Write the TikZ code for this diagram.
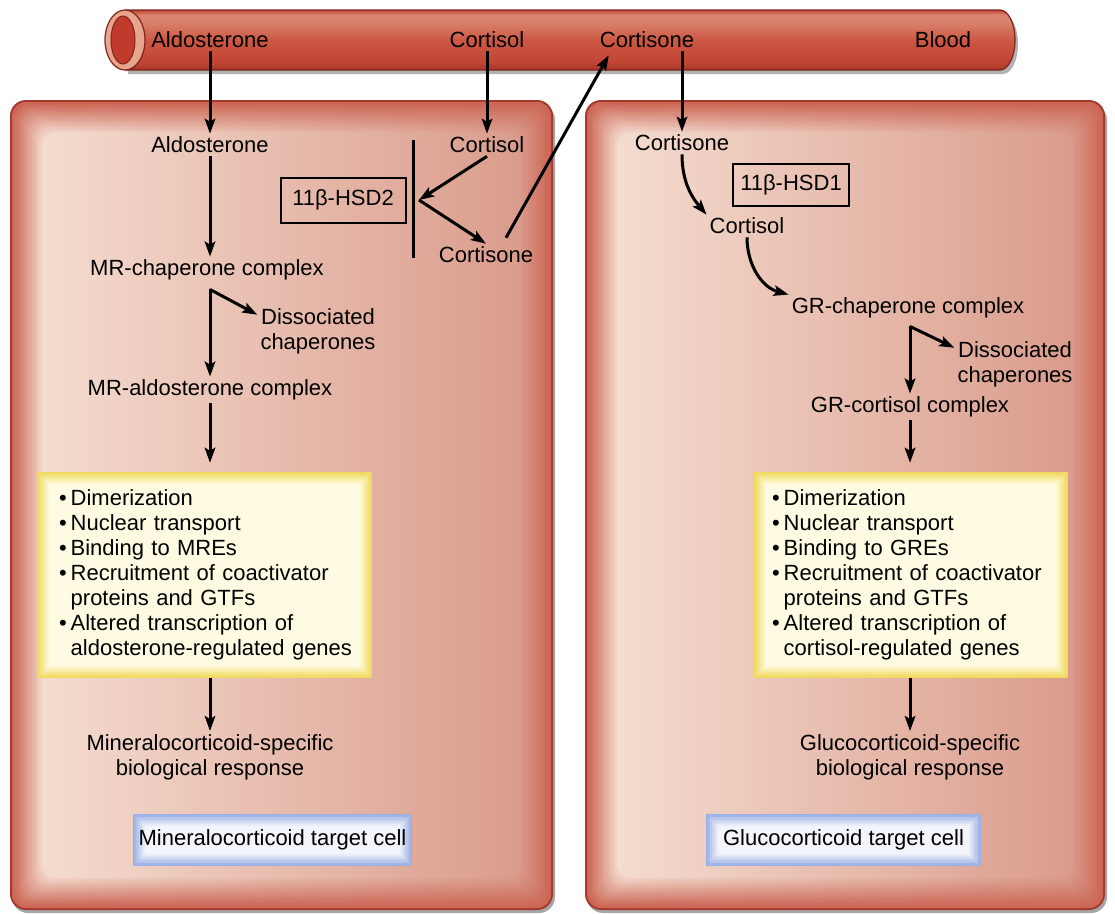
\documentclass[tikz,border=0pt]{standalone}
\usepackage{fontspec}
\setmainfont{Liberation Sans}
\usepackage{xcolor}
\usepackage{tikz}
\usetikzlibrary{positioning,calc,arrows.meta}

\definecolor{cellLine}{HTML}{A53A2E}
\definecolor{cellEdge}{HTML}{CC6655}
\definecolor{cellL}{HTML}{F4DCCF}
\definecolor{cellR}{HTML}{DA9C8C}
\definecolor{vesD}{HTML}{A63427}
\definecolor{vesB}{HTML}{BF4434}
\definecolor{vesM}{HTML}{CD5843}
\definecolor{vesH}{HTML}{DA8470}
\definecolor{vesLine}{HTML}{7E241C}
\definecolor{vesRim}{HTML}{E8A58E}
\definecolor{vesIn}{HTML}{C13B2D}
\definecolor{yelEdge}{HTML}{F0D95A}
\definecolor{yelIn}{HTML}{FEFBE2}
\definecolor{bluEdge}{HTML}{98AEE4}
\definecolor{bluIn}{HTML}{F4F5FC}

\pgfdeclareverticalshading{vessel}{100bp}{color(0bp)=(vesD); color(25bp)=(vesD); color(31bp)=(vesB);
  color(50bp)=(vesM); color(66bp)=(vesH); color(71bp)=(vesH); color(75bp)=(vesB); color(100bp)=(vesB)}

\pgfdeclarelayer{back}
\pgfdeclarelayer{mid}
\pgfsetlayers{back,mid,main}

% soft edged fill behind a node: node, edge colour, inner colour, steps
\newcommand{\softfill}[4]{%
  \foreach \k in {0,...,#4}{
    \pgfmathtruncatemacro\q{\k*100/#4}
    \fill[#3!\q!#2] ($(#1.north west)+(\k*1.5,-\k*1.5)$) rectangle ($(#1.south east)+(-\k*1.5,\k*1.5)$);
  }}

\begin{document}
\begin{tikzpicture}[x=1pt, y=1pt,
    font=\fontsize{22}{25}\selectfont,
    arr/.style={-{Stealth[length=15pt,width=10.5pt,inset=3pt]}, line width=3pt},
    lbl/.style={inner sep=3pt},
    enzyme/.style={draw, line width=2pt, inner sep=0pt},
    listbox/.style={align=left, inner ysep=0pt, minimum height=206pt},
    cellname/.style={inner sep=0pt, minimum height=52pt}]
\useasboundingbox (0,0) rectangle (1115,-913);

% Cells
\begin{pgfonlayer}{back}
\foreach \x/\X in {10/553,585/1105}{
  \fill[black!35, rounded corners=16pt] (\x+2,-104) rectangle (\X+2,-913);
  \fill[cellLine, rounded corners=16pt] (\x,-100) rectangle (\X,-910);
  \foreach \k in {0,...,12}{
    \pgfmathtruncatemacro\q{\k*100/12}
    \pgfmathsetmacro\d{2+\k*2.5}
    \shade[rounded corners=14pt, left color=cellL!\q!cellEdge, right color=cellR!\q!cellEdge]
      (\x+\d,-100-\d) rectangle (\X-\d,-910+\d);
  }
}

% Blood vessel
\fill[black!30] (128,-14) -- (1003,-14) arc[start angle=90,end angle=-90,x radius=15,y radius=30] -- (128,-74) -- cycle;
\shade[shading=vessel] (125,-10) -- (1000,-10)
  arc[start angle=90,end angle=-90,x radius=15,y radius=30] -- (125,-70) -- cycle;
\draw[vesLine, line width=1.2pt] (125,-10) -- (1000,-10)
  arc[start angle=90,end angle=-90,x radius=15,y radius=30] -- (125,-70);
\filldraw[fill=vesRim, draw=vesLine, line width=1.2pt] (125,-40) ellipse [x radius=20, y radius=30];
\filldraw[fill=vesIn, draw=vesLine, line width=1pt] (123,-40) ellipse [x radius=12, y radius=24];
\end{pgfonlayer}

% Blood
\node[lbl] (aldoBlood) at (210,-40) {Aldosterone};
\node[lbl] (cortisolBlood) at (487,-40) {Cortisol};
\node[lbl] (cortisoneBlood) at (647,-40) {Cortisone};
\node[lbl] (bloodLabel) at (943,-40) {Blood};

% Mineralocorticoid cell
\node[lbl] (aldoL) at (210,-145) {Aldosterone};
\node[lbl] (cortisolL) at (487,-145) {Cortisol};
\node[enzyme, minimum width=125pt, minimum height=45pt] (hsdTwo) at (343,-200) {11β-HSD2};
\node[lbl] (cortisoneL) at (486,-255) {Cortisone};
\coordinate (barTop) at (413,-140);
\coordinate (barBot) at (413,-258);
\coordinate (hsdJoin) at (419,-200);
\node[lbl] (mrChap) at (207,-270) {MR-chaperone complex};
\node[lbl, align=center] (dissocL) at (318,-331) {Dissociated\\chaperones};
\node[lbl] (mrAldo) at (210,-390) {MR-aldosterone complex};
\node[listbox, text width=291pt, inner xsep=22pt] (listL) at (204.5,-575) {%
  \begin{tabular}{@{}l@{\hspace{4pt}}l@{}}
  • & Dimerization\\
  • & Nuclear transport\\
  • & Binding to MREs\\
  • & Recruitment of coactivator\\
    & proteins and GTFs\\
  • & Altered transcription of\\
    & aldosterone-regulated genes
  \end{tabular}};
\node[lbl, align=center] (mineralResp) at (210,-757) {Mineralocorticoid-specific\\biological response};
\node[cellname, minimum width=279pt] (mineralCell) at (272.5,-840) {Mineralocorticoid target cell};

% Glucocorticoid cell
\node[lbl] (cortisoneR) at (682,-143) {Cortisone};
\node[enzyme, minimum width=116pt, minimum height=42pt] (hsdOne) at (791,-185) {11β-HSD1};
\node[lbl] (cortisolR) at (747,-226) {Cortisol};
\node[lbl] (grChap) at (908,-308) {GR-chaperone complex};
\node[lbl, align=center] (dissocR) at (1015,-364) {Dissociated\\chaperones};
\node[lbl] (grCort) at (910,-407) {GR-cortisol complex};
\node[listbox, text width=278pt, inner xsep=18pt] (listR) at (911,-575) {%
  \begin{tabular}{@{}l@{\hspace{4pt}}l@{}}
  • & Dimerization\\
  • & Nuclear transport\\
  • & Binding to GREs\\
  • & Recruitment of coactivator\\
    & proteins and GTFs\\
  • & Altered transcription of\\
    & cortisol-regulated genes
  \end{tabular}};
\node[lbl, align=center] (glucoResp) at (910,-757) {Glucocorticoid-specific\\biological response};
\node[cellname, minimum width=275pt] (glucoCell) at (843.5,-840) {Glucocorticoid target cell};

% Box fills
\begin{pgfonlayer}{mid}
\softfill{listL}{yelEdge}{yelIn}{8}
\softfill{listR}{yelEdge}{yelIn}{8}
\softfill{mineralCell}{bluEdge}{bluIn}{8}
\softfill{glucoCell}{bluEdge}{bluIn}{8}
\end{pgfonlayer}

% Arrows, left
\draw[arr] (aldoBlood) -- (aldoL);
\draw[arr] (cortisolBlood) -- (cortisolL);
\draw[line width=3pt] (barTop) -- (barBot);
\draw[arr] (cortisolL.south) -- (hsdJoin);
\draw[arr] (hsdJoin) -- (cortisoneL.north);
\draw[arr] ($(cortisoneL.north)+(20,6)$) -- ($(cortisoneBlood.south west)+(12,-4)$);
\draw[arr] (aldoL) -- (aldoL |- mrChap.north);
\coordinate (elbowL) at ($(mrChap.south)+(3,-6)$);
\draw[arr] (elbowL) -- (elbowL |- mrAldo.north);
\draw[arr] (elbowL) -- (dissocL.165);
\draw[arr, shorten >=9pt] (mrAldo) -- (mrAldo |- listL.north);
\draw[arr] (listL.south -| mineralResp) -- (mineralResp);

% Arrows, right
\draw[arr] (cortisoneBlood.south -| cortisoneR) -- (cortisoneR);
\draw[arr] (cortisoneR.south) to[out=-90, in=130] (cortisolR.north west);
\draw[arr] (cortisolR.south) to[out=-90, in=165] (grChap.north west);
\coordinate (elbowR) at ($(grChap.south)+(2,-5)$);
\draw[arr] (elbowR) -- (elbowR |- grCort.north);
\draw[arr] (elbowR) -- (dissocR.165);
\draw[arr, shorten >=9pt] (grCort) -- (grCort |- listR.north);
\draw[arr] (listR.south -| glucoResp) -- (glucoResp);
\end{tikzpicture}
\end{document}
